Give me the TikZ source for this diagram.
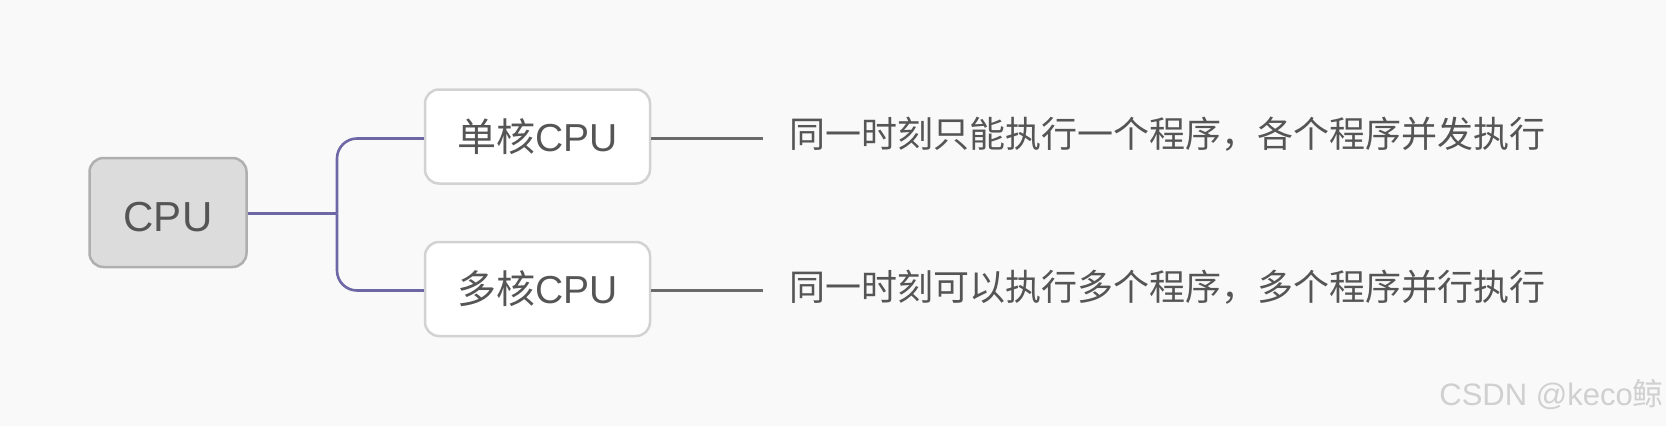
\documentclass[tikz,border=0pt]{standalone}
\usepackage{fontspec}
\setmainfont{Liberation Sans}
\newfontfamily\cjk{Noto Sans CJK SC}
\definecolor{bgc}{HTML}{F9F9F9}
\definecolor{txt}{HTML}{555555}
\definecolor{rootfill}{HTML}{DCDCDC}
\definecolor{rootdraw}{HTML}{AFAFAF}
\definecolor{boxdraw}{HTML}{D2D2D2}
\definecolor{branch}{HTML}{6E67A6}
\definecolor{leafline}{HTML}{6A6A6A}
\definecolor{wm}{HTML}{D0D0D0}
\begin{document}
\begin{tikzpicture}[x=1pt,y=-1pt,
  every node/.style={font=\fontsize{39}{46}\selectfont, text=txt},
  rootbox/.style={draw=rootdraw, fill=rootfill, line width=2.5pt, rounded corners=14pt, minimum width=157pt, minimum height=109pt, inner sep=0pt, font=\fontsize{42}{48}\selectfont},
  subbox/.style={draw=boxdraw, fill=white, line width=2.5pt, rounded corners=14pt, minimum width=225pt, minimum height=94pt, inner sep=0pt},
  desc/.style={anchor=west, inner sep=0pt, font=\fontsize{36}{44}\selectfont},
  branchline/.style={draw=branch, line width=2.6pt, rounded corners=20pt},
  leaf/.style={draw=leafline, line width=2.6pt}]
\fill[bgc] (0,0) rectangle (1666,426);
\useasboundingbox (0,0) rectangle (1666,426);

\node[rootbox] (cpu) at (168,212.5) {\raisebox{-5pt}[\height][\depth]{CPU}};
\node[subbox] (b1) at (537.5,136.5) {{\cjk 单核}CPU};
\node[subbox] (b2) at (537.5,289) {{\cjk 多核}CPU};

\coordinate (fork) at (337,213.5);
\coordinate (e1) at (763,138.5);
\coordinate (e2) at (763,290.5);
\draw[branchline] (cpu.east |- fork) -- (fork);
\draw[branchline] (fork) |- (b1.west |- e1);
\draw[branchline] (fork) |- (b2.west |- e2);

\draw[leaf] (b1.east |- e1) -- (e1);
\draw[leaf] (b2.east |- e2) -- (e2);

\node[desc] (d1) at (789,134) {\cjk 同一时刻只能执行一个程序，各个程序并发执行};
\node[desc] (d2) at (789,287) {\cjk 同一时刻可以执行多个程序，多个程序并行执行};

\node[anchor=east, inner sep=0pt, text=wm, font=\fontsize{31}{36}\selectfont] (wm) at (1664,395) {CSDN @keco{\cjk 鲸}};
\end{tikzpicture}
\end{document}
